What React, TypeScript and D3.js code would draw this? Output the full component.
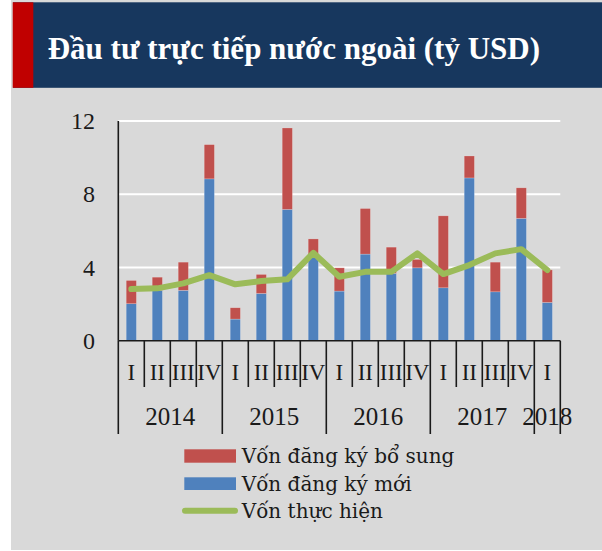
import React from "react";
import * as d3 from "d3";

const quarters = ["I", "II", "III", "IV", "I", "II", "III", "IV", "I", "II", "III", "IV", "I", "II", "III", "IV", "I"];
const years = ["2014", "2015", "2016", "2017", "2018"];
const quartersPerYear = [4, 4, 4, 4, 1];
const newCapital = [2.02, 2.75, 2.75, 8.84, 1.18, 2.58, 7.17, 4.58, 2.71, 4.73, 3.68, 3.98, 2.89, 8.89, 2.67, 6.68, 2.09];
const addCapital = [1.27, 0.72, 1.54, 1.87, 0.62, 1.04, 4.45, 0.98, 1.27, 2.49, 1.43, 0.46, 3.93, 1.2, 1.62, 1.67, 1.78];
const disbursed = [2.82, 2.86, 3.13, 3.58, 3.08, 3.26, 3.35, 4.8, 3.49, 3.76, 3.76, 4.77, 3.64, 4.13, 4.77, 5.0, 3.86];
const yTicks = [0, 4, 8, 12];
const legendLabels = ["Vốn đăng ký bổ sung", "Vốn đăng ký mới", "Vốn thực hiện"];
const title = "Đầu tư trực tiếp nước ngoài (tỷ USD)";

const RED = "#c0504d";
const BLUE = "#4f81bd";
const GREEN = "#9bbb59";

export default function App() {
  const W = 602, H = 551;
  const left = 118.3, right = 560.3, top = 121, bottom = 340.7;
  const idx = quarters.map((_, i) => i);
  const x = d3.scaleBand<number>().domain(idx).range([left, right]).padding(0);
  const y = d3.scaleLinear().domain([0, 12]).range([bottom, top]);
  const bw = 10.2;

  const stack = d3.stack<number>().keys(["n", "a"]).value((i, k) => (k === "n" ? newCapital[i] : addCapital[i]));
  const series = stack(idx);
  const colors = [BLUE, RED];

  const line = d3.line<number>().x((i) => x(i)! + x.bandwidth() / 2).y((i) => y(disbursed[i]));

  // boundaries
  const yearStarts: number[] = [];
  let acc = 0;
  quartersPerYear.forEach((c) => { yearStarts.push(acc); acc += c; });
  const longBounds = new Set<number>([...yearStarts, quarters.length]);
  const bounds = d3.range(quarters.length + 1);

  const axisFont = "'Liberation Serif', 'Times New Roman', serif";
  const legendFont = "'DejaVu Serif', serif";

  return (
    <svg width={W} height={H} style={{ position: "absolute", left: 0, top: 0, background: "#fff" }}>
      <rect x={11} y={0} width={W - 11} height={550} fill="#d9d9d9" />
      <rect x={13} y={2.3} width={W - 13} height={85.5} fill="#17375e" />
      <rect x={12.7} y={2.3} width={20.6} height={85.5} fill="#c00000" />
      <text x={47.7} y={59} fill="#fff" fontFamily={axisFont} fontWeight="bold" fontSize={31}>{title}</text>

      {yTicks.filter((t) => t > 0).map((t) => (
        <line key={t} x1={left} x2={right} y1={y(t)} y2={y(t)} stroke="#fff" strokeWidth={2} />
      ))}
      {yTicks.map((t) => (
        <text key={t} x={95} y={y(t)} dy="0.34em" textAnchor="end" fontFamily={axisFont} fontSize={24} fill="#1a1a1a">{t}</text>
      ))}

      {series.map((s, si) => (
        <g key={si}>
          {s.map((d, i) => (
            <rect key={i} x={x(i)! + (x.bandwidth() - bw) / 2} y={y(d[1])} width={bw} height={y(d[0]) - y(d[1])}
              fill={colors[si]} stroke="rgba(255,255,255,0.35)" strokeWidth={0.6} />
          ))}
        </g>
      ))}

      <path d={line(idx) || ""} fill="none" stroke={GREEN} strokeWidth={6} strokeLinejoin="round" strokeLinecap="round" />

      <line x1={left} x2={left} y1={top} y2={bottom} stroke="#1a1a1a" strokeWidth={1.6} />
      <line x1={left} x2={right} y1={bottom} y2={bottom} stroke="#1a1a1a" strokeWidth={1.6} />
      {bounds.map((b) => {
        const bx = b < quarters.length ? x(b)! : right;
        return (
          <line key={b} x1={bx} x2={bx} y1={bottom} y2={longBounds.has(b) ? 434 : 387} stroke="#1a1a1a" strokeWidth={1.6} />
        );
      })}
      {quarters.map((q, i) => (
        <text key={i} x={x(i)! + x.bandwidth() / 2} y={380} textAnchor="middle" fontFamily={axisFont} fontSize={23} fill="#1a1a1a">{q}</text>
      ))}
      {years.map((yr, i) => {
        const s = yearStarts[i];
        const e = s + quartersPerYear[i];
        const cx = (x(s)! + (e < quarters.length ? x(e)! : right)) / 2;
        return (
          <text key={yr} x={cx} y={425} textAnchor="middle" fontFamily={axisFont} fontSize={25} fill="#1a1a1a">{yr}</text>
        );
      })}

      <rect x={184.3} y={449.3} width={51.7} height={13.4} fill={RED} />
      <rect x={184.3} y={477.3} width={51.7} height={12.7} fill={BLUE} />
      <line x1={185} x2={235} y1={510.7} y2={510.7} stroke={GREEN} strokeWidth={6} strokeLinecap="round" />
      {legendLabels.map((l, i) => (
        <text key={l} x={241.7} y={463.3 + i * 27.3} fontFamily={legendFont} fontSize={20} fill="#1a1a1a">{l}</text>
      ))}
    </svg>
  );
}
